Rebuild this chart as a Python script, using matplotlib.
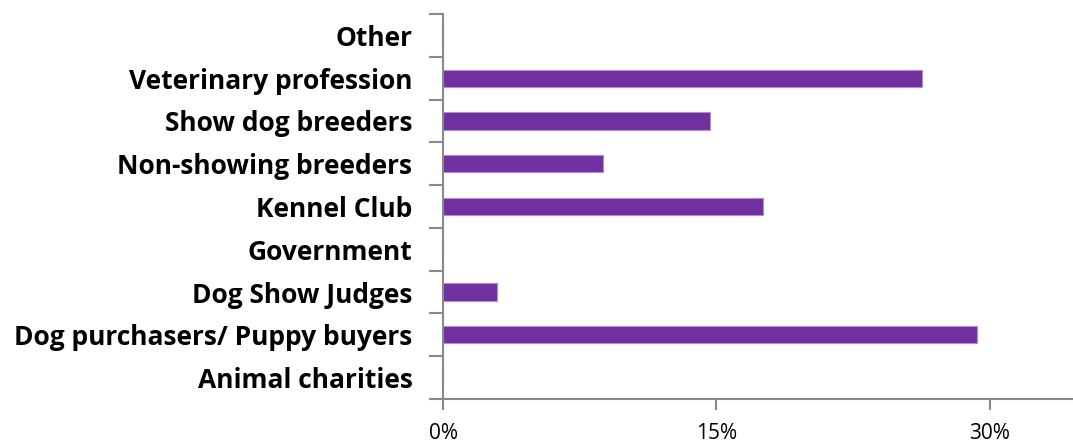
import matplotlib
matplotlib.use('Agg')
import matplotlib.pyplot as plt
from matplotlib.ticker import FuncFormatter

categories = ['Animal charities', 'Dog purchasers/ Puppy buyers', 'Dog Show Judges',
              'Government', 'Kennel Club', 'Non-showing breeders',
              'Show dog breeders', 'Veterinary profession', 'Other']
values = [0.0, 29.3, 2.95, 0.0, 17.55, 8.8, 14.65, 26.3, 0.0]
x_ticks = [0, 15, 30]

plt.rcParams['font.family'] = ['Open Sans', 'DejaVu Sans']

fig = plt.figure(figsize=(10.73, 4.42), dpi=100)
ax = fig.add_axes([0.4129, 0.0973, 0.5946, 0.871])

pos = list(range(len(categories)))
ax.barh(pos, values, height=0.4, color='#7030A0', edgecolor='#B58AD6', linewidth=0.8)

ax.set_xlim(0, 35)
ax.set_ylim(-0.5, len(categories) - 0.5)

ax.set_xticks(x_ticks)
ax.xaxis.set_major_formatter(FuncFormatter(lambda v, p: f'{v:.0f}%'))

# category labels between boundary ticks
ax.set_yticks([p - 0.5 for p in pos] + [len(categories) - 0.5])
ax.set_yticklabels([])
ax.set_yticks(pos, minor=True)
ax.set_yticklabels(categories, minor=True, fontsize=19, fontweight='bold')
ax.tick_params(axis='y', which='minor', length=0, pad=22)
ax.tick_params(axis='y', which='major', length=10, width=1.5, color='#898989')
ax.tick_params(axis='x', length=8, width=1.5, color='#898989', labelsize=15, pad=9)

for s in ['top', 'right']:
    ax.spines[s].set_visible(False)
for s in ['left', 'bottom']:
    ax.spines[s].set_color('#898989')
    ax.spines[s].set_linewidth(1.5)

plt.savefig('out.png', dpi=100, facecolor='white')
plt.close()
